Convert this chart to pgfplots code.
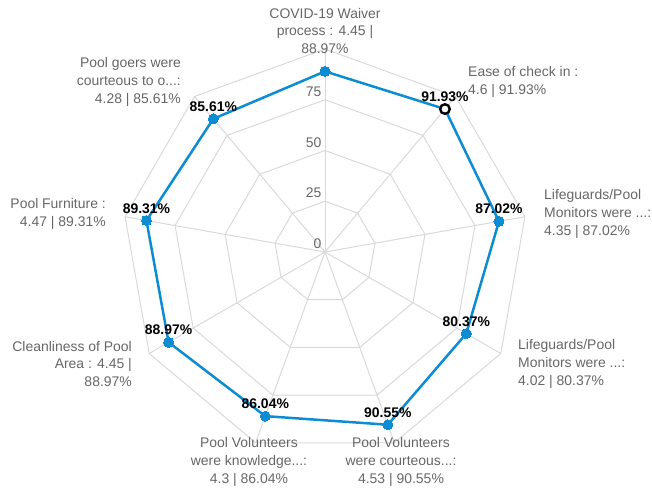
\documentclass[border=0pt]{standalone}
\usepackage{fontspec}
\setmainfont{Liberation Sans}
\usepackage{pgfplots}
\usepackage{pgfplotstable}
\pgfplotsset{compat=1.18}

\definecolor{series}{RGB}{12,140,210}
\definecolor{gridgray}{RGB}{217,217,217}
\definecolor{labelgray}{RGB}{102,102,102}

\tikzset{
  gridline/.style={draw=gridgray, line width=1bp},
  lab/.style={font=\fontsize{14}{18}\selectfont, text=labelgray, inner sep=0pt},
}

% angle (deg) and score (%) for each spoke, first row repeated to close the shape
\pgfplotstableread{
a r
90 88.97
50 91.93
10 87.02
-30 80.37
-70 90.55
-110 86.04
-150 88.97
-190 89.31
-230 85.61
-270 88.97
}\scores

% spoke angles, closed
\pgfplotstableread{
a full
90 100
50 100
10 100
-30 100
-70 100
-110 100
-150 100
-190 100
-230 100
-270 100
}\angles

\def\scl{2.03}

\begin{document}
\begin{tikzpicture}
\begin{axis}[
  width=652bp, height=494bp, scale only axis,
  xmin=-325, xmax=327, ymin=-242, ymax=252,
  hide axis, clip=false,
]
% polygon grid
\pgfplotsinvokeforeach{25,50,75,100}{
  \addplot[gridline, mark=none, forget plot] table[x expr={\scl*#1*cos(\thisrow{a})}, y expr={\scl*#1*sin(\thisrow{a})}] {\angles};
}
% spokes
\pgfplotsinvokeforeach{90,50,10,-30,-70,-110,-150,-190,-230}{
  \addplot[gridline, mark=none, forget plot] table[row sep=\\, x expr={\scl*\thisrow{r}*cos(\thisrow{a})}, y expr={\scl*\thisrow{r}*sin(\thisrow{a})}] {a r\\ #1 0\\ #1 100\\};
}
% radial ticks
\pgfplotsinvokeforeach{0,25,50,75}{
  \node[lab, anchor=south east] at (axis cs:-3.5,{\scl*#1+3}) {#1};
}
% series
\addplot[series, line width=2.5bp, mark=none]
  table[x expr={\scl*\thisrow{r}*cos(\thisrow{a})}, y expr={\scl*\thisrow{r}*sin(\thisrow{a})}] {\scores};
\addplot[only marks, mark=*, mark size=5bp, mark options={fill=series, draw=series, line width=0pt}]
  table[x expr={\scl*\thisrow{r}*cos(\thisrow{a})}, y expr={\scl*\thisrow{r}*sin(\thisrow{a})}] {\scores};
\addplot[only marks, mark=*, mark size=4.8bp, mark options={fill=white, draw=black, line width=2.4bp}]
  table[row sep=\\, x expr={\scl*\thisrow{r}*cos(\thisrow{a})}, y expr={\scl*\thisrow{r}*sin(\thisrow{a})}] {a r\\ 50 91.93\\};
% value labels
\addplot[draw=none, mark=none, point meta=explicit symbolic,
  skip coords between index={0}{1}, skip coords between index={9}{10},
  nodes near coords={\pgfplotspointmeta\%},
  every node near coord/.append style={anchor=south, inner sep=0pt, yshift=7bp,
    font=\fontsize{14}{18}\selectfont\bfseries, text=black}]
  table[x expr={\scl*\thisrow{r}*cos(\thisrow{a})}, y expr={\scl*\thisrow{r}*sin(\thisrow{a})}, meta=r] {\scores};
% category labels
\node[lab, align=center] at (axis cs:0,221) {COVID-19 Waiver\\process : 4.45 |\\88.97\%};
\node[lab, align=left, anchor=west] at (axis cs:143,170) {Ease of check in :\\4.6 | 91.93\%};
\node[lab, align=left, anchor=west] at (axis cs:219,38) {Lifeguards/Pool\\Monitors were ...:\\4.35 | 87.02\%};
\node[lab, align=left, anchor=west] at (axis cs:193,-112) {Lifeguards/Pool\\Monitors were ...:\\4.02 | 80.37\%};
\node[lab, align=center] at (axis cs:76,-210) {Pool Volunteers\\were courteous...:\\4.53 | 90.55\%};
\node[lab, align=center] at (axis cs:-76,-210) {Pool Volunteers\\were knowledge...:\\4.3 | 86.04\%};
\node[lab, align=right, anchor=east] at (axis cs:-193,-112) {Cleanliness of Pool\\Area : 4.45 |\\88.97\%};
\node[lab, align=right, anchor=east] at (axis cs:-219,38) {Pool Furniture :\\4.47 | 89.31\%};
\node[lab, align=right, anchor=east] at (axis cs:-144,170) {Pool goers were\\courteous to o...:\\4.28 | 85.61\%};
\coordinate (bl) at (axis cs:-325,-242);
\coordinate (tr) at (axis cs:327,252);
\end{axis}
\pgfresetboundingbox
\path[use as bounding box] (bl) rectangle (tr);
\end{tikzpicture}
\end{document}
